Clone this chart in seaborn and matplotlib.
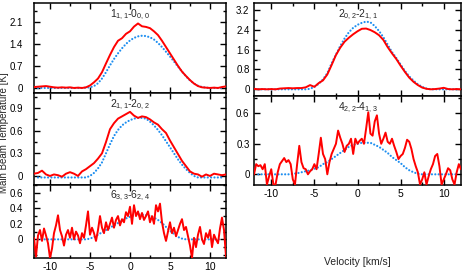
import matplotlib
matplotlib.use("Agg")
import matplotlib.pyplot as plt
from matplotlib.ticker import MultipleLocator
import seaborn as sns

sns.set_style("ticks")
plt.rcParams['font.family'] = ['Liberation Sans', 'DejaVu Sans']
plt.rcParams['mathtext.fontset'] = 'custom'
plt.rcParams['mathtext.rm'] = 'Liberation Sans'
plt.rcParams['mathtext.it'] = 'Liberation Sans'
plt.rcParams['axes.unicode_minus'] = False

# ---------------- data ----------------
vel_coarse = [-12.0, -11.5, -11.0, -10.5, -10.0, -9.5, -9.0, -8.5, -8.0, -7.5, -7.0, -6.5,
              -6.0, -5.5, -5.0, -4.5, -4.0, -3.5, -3.0, -2.5, -2.0, -1.5, -1.0, -0.5,
              0.0, 0.5, 1.0, 1.5, 2.0, 2.5, 3.0, 3.5, 4.0, 4.5, 5.0, 5.5,
              6.0, 6.5, 7.0, 7.5, 8.0, 8.5, 9.0, 9.5, 10.0, 10.5, 11.0, 11.5, 12.0]
vel_model = [-11.5, -11.0, -10.5, -10.0, -9.5, -9.0, -8.5, -8.0, -7.5, -7.0, -6.5, -6.0,
             -5.5, -5.0, -4.5, -4.0, -3.5, -3.0, -2.5, -2.0, -1.5, -1.0, -0.5, 0.0,
             0.5, 1.0, 1.5, 2.0, 2.5, 3.0, 3.5, 4.0, 4.5, 5.0, 5.5, 6.0,
             6.5, 7.0, 7.5, 8.0, 8.5, 9.0, 9.5, 10.0, 10.5, 11.0, 11.5]
vel_fine = [-12.0, -11.75, -11.5, -11.25, -11.0, -10.75, -10.5, -10.25, -10.0, -9.75,
            -9.5, -9.25, -9.0, -8.75, -8.5, -8.25, -8.0, -7.75, -7.5, -7.25,
            -7.0, -6.75, -6.5, -6.25, -6.0, -5.75, -5.5, -5.25, -5.0, -4.75,
            -4.5, -4.25, -4.0, -3.75, -3.5, -3.25, -3.0, -2.75, -2.5, -2.25,
            -2.0, -1.75, -1.5, -1.25, -1.0, -0.75, -0.5, -0.25, 0.0, 0.25,
            0.5, 0.75, 1.0, 1.25, 1.5, 1.75, 2.0, 2.25, 2.5, 2.75,
            3.0, 3.25, 3.5, 3.75, 4.0, 4.25, 4.5, 4.75, 5.0, 5.25,
            5.5, 5.75, 6.0, 6.25, 6.5, 6.75, 7.0, 7.25, 7.5, 7.75,
            8.0, 8.25, 8.5, 8.75, 9.0, 9.25, 9.5, 9.75, 10.0, 10.25,
            10.5, 10.75, 11.0, 11.25, 11.5, 11.75, 12.0]

# 1_{1,1}-0_{0,0}
obs_111 = [0.03, 0.04, 0.05, 0.06, 0.04, 0.02, 0.01, 0.02, 0.01, 0.02, 0.0, 0.01,
           0.0, 0.02, 0.08, 0.18, 0.3, 0.5, 0.78, 1.05, 1.3, 1.5, 1.58, 1.72,
           1.8, 1.95, 2.05, 1.96, 1.94, 1.9, 1.8, 1.68, 1.5, 1.3, 1.1, 0.9,
           0.7, 0.52, 0.38, 0.25, 0.14, 0.06, 0.02, 0.01, 0.0, 0.01, 0.0, 0.03, 0.05]
mod_111 = [0, 0, 0, 0, 0, 0, 0, 0, 0, 0, 0, 0,
           0.01, 0.02, 0.06, 0.15, 0.3, 0.5, 0.72, 0.92, 1.1, 1.26, 1.4, 1.51,
           1.59, 1.64, 1.66, 1.65, 1.61, 1.54, 1.43, 1.3, 1.15, 1.0, 0.84, 0.68,
           0.52, 0.37, 0.24, 0.14, 0.07, 0.03, 0.01, 0, 0, 0, 0]

# 2_{1,1}-2_{0,2}
obs_211 = [0.03, 0.04, 0.07, 0.02, 0.0, 0.02, 0.01, -0.01, 0.03, 0.05, 0.03, 0.0,
           0.06, 0.09, 0.13, 0.17, 0.23, 0.3, 0.45, 0.62, 0.7, 0.76, 0.79, 0.82,
           0.85, 0.8, 0.77, 0.79, 0.78, 0.75, 0.71, 0.68, 0.62, 0.57, 0.47, 0.38,
           0.29, 0.2, 0.13, 0.06, 0.03, 0.02, -0.01, 0.02, 0.0, 0.03, 0.02, 0.01, 0.02]
mod_211 = [-0.02, -0.02, -0.02, -0.02, -0.02, -0.02, -0.02, -0.02, -0.02, -0.02, -0.02, -0.02,
           -0.02, 0.0, 0.04, 0.1, 0.18, 0.3, 0.42, 0.53, 0.61, 0.67, 0.71, 0.74,
           0.76, 0.77, 0.77, 0.76, 0.72, 0.67, 0.61, 0.54, 0.46, 0.38, 0.3, 0.22,
           0.15, 0.09, 0.04, 0.0, -0.02, -0.02, -0.02, -0.02, -0.02, -0.02, -0.02]

# 6_{3,3}-6_{2,4}
obs_633 = [0.02, -0.22, 0.05, 0.12, -0.02, 0.14, 0.05, -0.05, -0.24, -0.12,
           0.08, 0.18, 0.31, 0.12, 0.04, -0.08, 0.06, 0.12, 0.02, 0.15,
           0.0, 0.1, 0.05, -0.05, 0.08, 0.02, 0.18, 0.36, 0.06, 0.15,
           0.08, -0.02, 0.12, 0.3, 0.15, 0.08, 0.22, 0.12, 0.2, 0.28,
           0.15, 0.25, 0.3, 0.18, 0.26, 0.22, 0.35, 0.3, 0.42, 0.2,
           0.44, 0.3, 0.36, 0.26, 0.34, 0.25, 0.3, 0.36, 0.22, 0.3,
           0.2, 0.44, 0.36, 0.46, 0.22, 0.08, -0.02, 0.1, 0.22, 0.08,
           0.15, 0.04, 0.12, 0.2, 0.26, 0.12, 0.16, 0.04, -0.08, -0.24,
           0.02, -0.1, 0.06, 0.16, 0.0, -0.06, 0.08, 0.02, 0.12, -0.1,
           0.06, 0.0, -0.05, 0.14, 0.28, 0.12, -0.22]
mod_633 = [0, 0, 0, 0, 0, 0, 0, 0, 0, 0, 0, 0,
           0, 0.01, 0.03, 0.06, 0.09, 0.12, 0.15, 0.18, 0.21, 0.24, 0.27, 0.29,
           0.31, 0.32, 0.32, 0.31, 0.3, 0.28, 0.25, 0.21, 0.16, 0.11, 0.07, 0.03,
           0.01, 0, 0, 0, 0, 0, 0, 0, 0, 0, 0]

# 2_{0,2}-2_{1,1}
obs_202 = [0.02, 0.0, 0.01, 0.0, 0.01, 0.0, 0.03, 0.04, 0.05, 0.04, 0.05, 0.05,
           0.08, 0.17, 0.1, 0.25, 0.36, 0.6, 0.98, 1.38, 1.68, 1.92, 2.08, 2.22,
           2.34, 2.44, 2.45, 2.39, 2.3, 2.18, 1.99, 1.7, 1.45, 1.22, 0.95, 0.7,
           0.47, 0.3, 0.17, 0.07, 0.02, 0.0, 0.01, 0.03, 0.06, 0.01, 0.0, 0.01, 0.0]
mod_202 = [0, 0, 0, 0, 0, 0, 0, 0, 0, 0, 0, 0,
           0.02, 0.1, 0.22, 0.4, 0.65, 1.05, 1.4, 1.75, 2.05, 2.3, 2.48, 2.6,
           2.68, 2.73, 2.7, 2.55, 2.35, 2.1, 1.8, 1.5, 1.26, 1.0, 0.74, 0.52,
           0.35, 0.2, 0.1, 0.03, 0.0, 0, 0, 0, 0, 0, 0]

# 4_{2,2}-4_{1,3}
obs_422 = [0.0, 0.1, 0.08, 0.09, 0.05, 0.1, -0.1, -0.02, 0.05, -0.1,
           -0.1, 0.02, 0.1, 0.13, 0.16, 0.12, 0.14, 0.1, -0.05, -0.1,
           0.1, 0.28, 0.12, 0.06, 0.05, 0.0, 0.03, 0.05, 0.1, 0.05,
           0.2, 0.36, 0.2, 0.15, 0.0, 0.12, 0.2, 0.25, 0.3, 0.43,
           0.36, 0.3, 0.22, 0.28, 0.3, 0.35, 0.2, 0.35, 0.3, 0.33,
           0.35, 0.3, 0.45, 0.61, 0.4, 0.38, 0.52, 0.58, 0.4, 0.3,
           0.35, 0.41, 0.32, 0.3, 0.35, 0.28, 0.22, 0.15, 0.18, 0.2,
           0.26, 0.34, 0.32, 0.25, 0.15, 0.08, 0.02, -0.1, -0.05, 0.02,
           -0.1, -0.02, 0.05, 0.1, 0.18, 0.2, 0.08, -0.1, -0.05, 0.0,
           0.06, 0.04, -0.05, -0.1, 0.02, 0.1, 0.05]
mod_422 = [0, 0, 0, 0, 0, 0, 0, 0, 0.005, 0.01, 0.02, 0.03,
           0.04, 0.055, 0.07, 0.1, 0.12, 0.15, 0.18, 0.21, 0.24, 0.27, 0.29, 0.3,
           0.31, 0.31, 0.31, 0.29, 0.27, 0.24, 0.21, 0.17, 0.14, 0.11, 0.07, 0.04,
           0.02, 0.005, 0, 0, 0, 0, 0, 0, 0, 0, 0]

labels = [r"$\mathregular{1_{1,1}}$-$\mathregular{0_{0,0}}$",
          r"$\mathregular{2_{1,1}}$-$\mathregular{2_{0,2}}$",
          r"$\mathregular{6_{3,3}}$-$\mathregular{6_{2,4}}$",
          r"$\mathregular{2_{0,2}}$-$\mathregular{2_{1,1}}$",
          r"$\mathregular{4_{2,2}}$-$\mathregular{4_{1,3}}$"]
yticks_list = [[0, 0.7, 1.4, 2.1], [0, 0.3, 0.6, 0.9], [0, 0.2, 0.4, 0.6],
               [0, 0.8, 1.6, 2.4, 3.2], [0, 0.3, 0.6]]
ytick_labels = [["0", "0.7", "1.4", "2.1"], ["0", "0.3", "0.6", "0.9"], ["0", "0.2", "0.4", "0.6"],
                ["0", "0.8", "1.6", "2.4", "3.2"], ["0", "0.3", "0.6"]]
xticks = [-10, -5, 0, 5, 10]
xtick_labels = ["-10", "-5", "0", "5", "10"]

# ---------------- figure ----------------
W, H = 463, 278
fig = plt.figure(figsize=(W / 100, H / 100), dpi=100)

def px_axes(x0, x1, y0, y1):
    return fig.add_axes([x0 / W, 1 - y1 / H, (x1 - x0) / W, (y1 - y0) / H])

axes = [px_axes(34, 226, 3, 93), px_axes(34, 226, 93, 185), px_axes(34, 226, 185, 258),
        px_axes(254, 461, 3, 96), px_axes(254, 461, 96, 185)]
ylims = [(-0.16, 2.7), (-0.12, 1.1), (-0.24, 0.7), (-0.27, 3.48), (-0.105, 0.77)]
obs_list = [(vel_coarse, obs_111), (vel_coarse, obs_211), (vel_fine, obs_633),
            (vel_coarse, obs_202), (vel_fine, obs_422)]
mod_list = [mod_111, mod_211, mod_633, mod_202, mod_422]
label_pos = [0.87, 0.87, 0.85, 0.87, 0.87]
show_x = [False, False, True, False, True]
minor_y = [0.35, 0.15, 0.1, 0.4, 0.15]
ypad = [7.8, 7.8, 7.8, 3.2, 3.2]

for i, ax in enumerate(axes):
    vx, vy = obs_list[i]
    sns.lineplot(x=vel_model, y=mod_list[i], ax=ax, color="#1f8ff0", lw=1.6,
                 linestyle=(0, (0.01, 1.5)), dash_capstyle="round", zorder=3)
    sns.lineplot(x=vx, y=vy, ax=ax, color="#ff0000", lw=1.4, zorder=4)
    ax.set_xlim(-12, 12)
    ax.set_ylim(*ylims[i])
    ax.set_xticks(xticks)
    ax.xaxis.set_minor_locator(MultipleLocator(2.5))
    ax.set_yticks(yticks_list[i])
    ax.set_yticklabels(ytick_labels[i])
    ax.yaxis.set_minor_locator(MultipleLocator(minor_y[i]))
    ax.tick_params(which="both", direction="in", top=True, right=True, width=1.0,
                   labelsize=7, colors="black")
    ax.tick_params(axis="y", pad=ypad[i])
    ax.tick_params(axis="x", pad=3, labelsize=7.5)
    ax.tick_params(which="major", length=4)
    ax.tick_params(which="minor", length=2.5)
    if show_x[i]:
        ax.set_xticklabels(xtick_labels)
    else:
        ax.set_xticklabels([])
    for s in ax.spines.values():
        s.set_linewidth(1.1)
        s.set_color("black")
    ax.set_xlabel("")
    ax.set_ylabel("")
    ax.text(0.5, label_pos[i], labels[i], transform=ax.transAxes, ha="center",
            va="center", fontsize=7.5)

fig.text(4.5 / W, 1 - 133 / H, "Main Beam Temperature [K]", rotation=90,
         ha="center", va="center", fontsize=7)
fig.text(357 / W, 1 - 262 / H, "Velocity [km/s]", ha="center", va="center", fontsize=7.5)

fig.savefig("out.png", dpi=100)
